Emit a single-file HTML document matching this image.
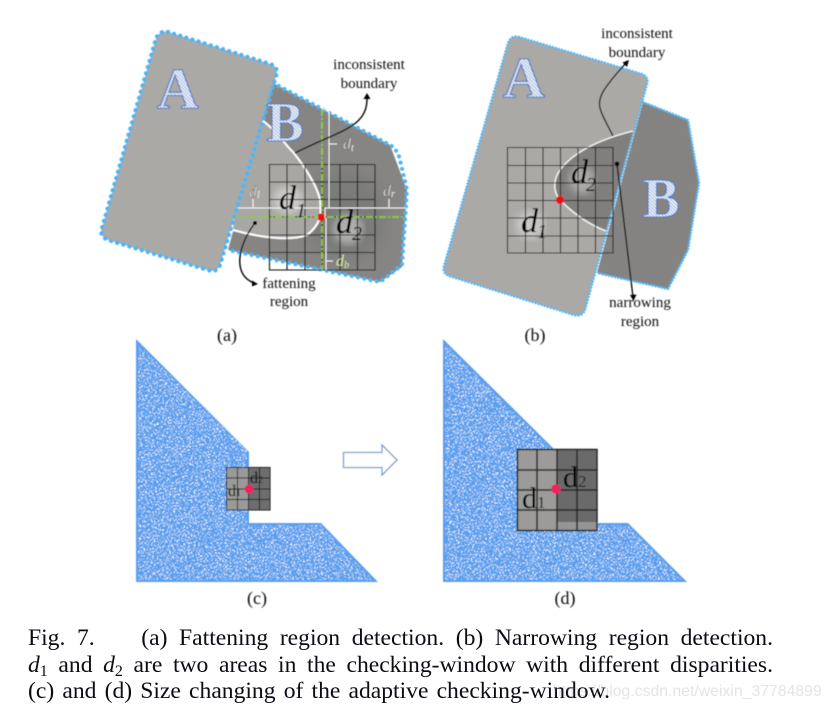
<!DOCTYPE html>
<html><head><meta charset="utf-8">
<style>
html,body{margin:0;padding:0;background:#fff;width:833px;height:715px;overflow:hidden}
svg{position:absolute;left:0;top:0}
.l{position:absolute;left:28px;white-space:nowrap;font-family:"Liberation Serif",serif;font-size:23.6px;line-height:27px;color:#0c0c14;text-align:justify;text-align-last:justify}
.l i{font-style:italic}
.l sub{font-size:16px;line-height:0;vertical-align:-4px}
.w{position:absolute;left:553px;top:682px;font-family:"Liberation Sans",sans-serif;font-size:15.800px;line-height:20px;color:rgba(120,120,120,.2);white-space:nowrap}
text{font-family:"Liberation Serif",serif}
</style></head><body>
<svg width="833" height="715" viewBox="0 0 833 715" xmlns="http://www.w3.org/2000/svg">
<defs>
<filter id="sp" x="0" y="0" width="100%" height="100%" color-interpolation-filters="sRGB">
<feTurbulence type="fractalNoise" baseFrequency="0.7" numOctaves="2" seed="7"/>
<feColorMatrix values="0 0 0 0 1 0 0 0 0 1 0 0 0 0 1 1 0 0 0 0"/>
<feComponentTransfer><feFuncA type="discrete" tableValues="0 0 0 0 0 0 0 0 0 0 1 1 1 1 1 1"/></feComponentTransfer>
</filter>
<filter id="s1"><feGaussianBlur stdDeviation="0.5"/></filter>
<filter id="s4"><feGaussianBlur stdDeviation="4"/></filter>
<filter id="s8"><feGaussianBlur stdDeviation="9"/></filter>
<pattern id="h" width="2.4" height="2.4" patternUnits="userSpaceOnUse" patternTransform="rotate(45)">
<rect width="2.4" height="2.4" fill="#eef3fa"/><rect width="2.4" height="0.9" fill="#9fb4d8"/>
</pattern>
<clipPath id="c1"><polygon points="138,344 247,451 247,525 320,525 373,580 138,580"/></clipPath>
<clipPath id="c2"><polygon points="445,344 552,450 600,525 627,525 682,580 445,580"/></clipPath>
</defs>

<g filter="url(#s1)">
<!-- (a) -->
<path d="M273,83 L390,145 L407,190 L402,267 L380,282 L228,250 Z" fill="#868583"/>
<ellipse cx="345" cy="215" rx="40" ry="45" fill="#7a7a79" filter="url(#s8)"/>
<path d="M262,120 C278,132 286,146 293,152 C306,168 318,188 320,200 C322,216 320,225 307,235 C294,240 270,240 233,230 L240,150 Z" fill="#a9a7a4"/>
<path d="M273,83 L390,145 Q398,150 400,160 L407,190 L402,265 L380,282 L228,250" fill="none" stroke="#48b6f4" stroke-width="4.2" stroke-linecap="round" stroke-dasharray="0 6.4"/>
<path d="M262,120 C278,132 286,146 293,152 C306,168 318,188 320,200 C322,216 320,225 307,235 C294,240 270,240 233,230" fill="none" stroke="#fff" stroke-width="2"/>
<path d="M168,32 L270,64 Q279,67 276,76 L220,265 Q217,273 208,270 L108,240 Q99,236 102,228 L155,42 Q158,30 168,32 Z" fill="#aba9a6"/>
<path d="M168,32 L270,64 Q279,67 276,76 L220,265 Q217,273 208,270 L108,240 Q99,236 102,228 L155,42 Q158,30 168,32 Z" fill="none" stroke="#48b6f4" stroke-width="4.4" stroke-linecap="round" stroke-dasharray="0 6.4"/>
<text x="178" y="108" text-anchor="middle" font-size="58" font-weight="bold" fill="url(#h)" stroke="#4a78c4" stroke-width="1.1">A</text>
<text x="285" y="141" text-anchor="middle" font-size="56" font-weight="bold" fill="url(#h)" stroke="#4a78c4" stroke-width="1.1">B</text>
<ellipse cx="288" cy="200" rx="15" ry="14" fill="#fff" opacity=".4" filter="url(#s4)"/>
<ellipse cx="348" cy="229" rx="15" ry="15" fill="#fff" opacity=".4" filter="url(#s4)"/>
<g stroke="#111" stroke-width="1.1" fill="none">
<path d="M269.5,164.5H375V270H269.5Z M269.5,182H375 M269.5,199.5H375 M269.5,217H375 M269.5,235H375 M269.5,252.5H375 M287,164.5V270 M305,164.5V270 M322,164.5V270 M340,164.5V270 M357.5,164.5V270"/>
</g>
<g fill="none" stroke="#f6f6f6" stroke-width="1">
<path d="M322,109H329V144H337 M329,144V208"/>
<path d="M238,208H320 M325,218V208H406"/>
<path d="M253,208V199 M389,208V199"/>
<path d="M326,218V270 M326,261H333"/>
</g>
<g fill="none" stroke="#8ecb32" stroke-width="1.8" stroke-dasharray="7 2 2 2">
<path d="M322,109V270"/><path d="M236,217H406"/>
</g>
<rect x="318" y="213.500" width="6.500" height="7" rx="1.500" fill="#f01010"/>
<text x="249" y="197" font-size="16" font-style="italic" fill="#eee" stroke="#666" stroke-width=".4">d</text><text x="257" y="198" font-size="10" font-style="italic" fill="#eee">l</text>
<text x="343" y="149" font-size="16" font-style="italic" fill="#eee" stroke="#666" stroke-width=".4">d</text><text x="351" y="151" font-size="10" font-style="italic" fill="#eee">t</text>
<text x="383" y="196" font-size="16" font-style="italic" fill="#eee" stroke="#666" stroke-width=".4">d</text><text x="391" y="197" font-size="10" font-style="italic" fill="#eee">r</text>
<text x="336" y="266" font-size="16" font-style="italic" fill="#d4eaa0">d</text><text x="344" y="268" font-size="10" font-style="italic" fill="#d4eaa0">b</text>
<text x="279" y="209" font-size="34" font-style="italic" fill="#000">d</text><text x="296" y="217" font-size="20" font-style="italic" fill="#000">1</text>
<text x="336" y="233" font-size="34" font-style="italic" fill="#000">d</text><text x="352" y="240" font-size="20" font-style="italic" fill="#000">2</text>
<path d="M295,153 C340,130 368,128 367,97" fill="none" stroke="#000" stroke-width="1.4"/>
<path d="M367,93 L363.5,99 L370.5,99 Z" fill="#000"/>
<circle cx="255" cy="223" r="2" fill="#000"/>
<path d="M255,223 C238,245 232,275 254,283" fill="none" stroke="#000" stroke-width="1.4"/>
<path d="M258,284 L252,280.5 L252,286.5 Z" fill="#000"/>
<g font-size="15" fill="#111" text-anchor="middle">
<text x="369" y="69">inconsistent</text><text x="369" y="88">boundary</text>
<text x="289" y="288">fattening</text><text x="289" y="306">region</text>
<text x="637" y="38">inconsistent</text><text x="637" y="57">boundary</text>
<text x="640" y="307">narrowing</text><text x="640" y="326">region</text>
</g>

<!-- (b) -->
<path d="M643,102 L688,120 L699,183 L688,250 L668,289 L597,273 Z" fill="#848382"/>
<path d="M643,102 L688,120 L699,183 L688,250 L668,289 L597,273" fill="none" stroke="#48b6f4" stroke-width="2.5" stroke-linecap="round" stroke-dasharray="0 3.2"/>
<path d="M519,37 L642,74 Q649,77 647,84 L585,310 Q582,317 574,315 L449,276 Q442,273 444,266 L508,43 Q511,35 519,37 Z" fill="#aba9a6"/>
<path d="M633,131 C605,138 575,150 560,170 C553,180 553,192 560,200 C575,215 590,225 606,231 Z" fill="#807f7d"/>
<ellipse cx="582" cy="180" rx="13" ry="14" fill="#d8d7d5" opacity=".5" filter="url(#s4)"/>
<ellipse cx="530" cy="225" rx="14" ry="14" fill="#f0f0f0" opacity=".45" filter="url(#s4)"/>
<path d="M519,37 L642,74 Q649,77 647,84 L585,310 Q582,317 574,315 L449,276 Q442,273 444,266 L508,43 Q511,35 519,37 Z" fill="none" stroke="#48b6f4" stroke-width="2.5" stroke-linecap="round" stroke-dasharray="0 3.2"/>
<path d="M633,131 C605,138 575,150 560,170 C553,180 553,192 560,200 C575,215 590,225 606,231" fill="none" stroke="#f8f8f8" stroke-width="1.4"/>
<text x="524" y="97" text-anchor="middle" font-size="58" font-weight="bold" fill="url(#h)" stroke="#4a78c4" stroke-width="1.1">A</text>
<text x="661" y="217" text-anchor="middle" font-size="56" font-weight="bold" fill="url(#h)" stroke="#4a78c4" stroke-width="1.1">B</text>
<path d="M507.5,147.5H613V253H507.5Z M507.5,165.5H613 M507.5,183H613 M507.5,200.5H613 M507.5,218H613 M507.5,236H613 M525.5,147.5V253 M543,147.5V253 M560.5,147.5V253 M578,147.5V253 M595.5,147.5V253" fill="none" stroke="#222" stroke-width="1.1"/>
<circle cx="560" cy="200" r="4" fill="#f01010"/>
<text x="571" y="183" font-size="34" font-style="italic" fill="#000">d</text><text x="586" y="191" font-size="20" font-style="italic" fill="#000">2</text>
<text x="521" y="232" font-size="34" font-style="italic" fill="#000">d</text><text x="537" y="238" font-size="20" font-style="italic" fill="#000">1</text>
<path d="M613,136 C600,110 595,105 604,90 C612,78 618,72 626,63" fill="none" stroke="#000" stroke-width="1.3"/>
<path d="M629,60 L622.5,62.5 L627,67 Z" fill="#000"/>
<circle cx="617" cy="164" r="2.4" fill="#000"/>
<path d="M617,164 L633,297" fill="none" stroke="#000" stroke-width="1.3"/>
<path d="M633.5,301 L630,295 L636.5,294.5 Z" fill="#000"/>

<g font-size="18" fill="#111" text-anchor="middle">
<text x="227" y="341">(a)</text><text x="535" y="341">(b)</text>
<text x="257" y="604">(c)</text><text x="565" y="604">(d)</text>
</g>

<!-- (c) -->
<polygon points="136,339 249,452 249,523 321,523 378,582 136,582" fill="#5a9fee"/>
<g clip-path="url(#c1)"><rect x="136" y="339" width="245" height="243" filter="url(#sp)"/></g>
<rect x="226" y="467" width="22" height="43" fill="#9a9a98"/>
<rect x="248" y="467" width="22" height="43" fill="#6d6d6d"/>
<path d="M226.5,467.5H270V510H226.5Z M226.5,478H270 M226.5,489H270 M226.5,499.5H270 M237.5,467.5V510 M248.5,467.5V510 M259.5,467.5V510" fill="none" stroke="#111" stroke-width="1"/>
<text x="228" y="496" font-size="16" fill="#000">d</text><text x="236" y="496" font-size="10" fill="#222">1</text>
<text x="250" y="483" font-size="16" fill="#000">d</text><text x="258" y="483" font-size="10" fill="#222">2</text>
<circle cx="249" cy="489" r="4.5" fill="#ef2060"/>
<polygon points="343.5,452.5 382,452.5 382,445 397,460 382,475 382,467.5 343.5,467.5" fill="#fff" stroke="#7f9ccc" stroke-width="1.3"/>

<!-- (d) -->
<polygon points="443,339 553,448 553,523 628,523 687,582 443,582" fill="#5a9fee"/>
<g clip-path="url(#c2)"><rect x="443" y="339" width="245" height="243" filter="url(#sp)"/></g>
<rect x="517" y="449" width="40" height="82" fill="#9c9b99"/>
<rect x="557" y="449" width="40" height="73" fill="#6b6b6b"/>
<rect x="557" y="522" width="40" height="9" fill="#969594"/>
<path d="M517.5,449.5H597V530.5H517.5Z M517.5,470H597 M517.5,490H597 M517.5,510H597 M537,449.5V530.5 M557,449.5V530.5 M577,449.5V530.5" fill="none" stroke="#222" stroke-width="1.5"/>
<text x="522" y="508" font-size="30" fill="#000">d</text><text x="537" y="508" font-size="17" fill="#222">1</text>
<text x="563" y="487" font-size="30" fill="#000">d</text><text x="578" y="487" font-size="17" fill="#222">2</text>
<circle cx="556" cy="489" r="4.8" fill="#ef2060"/>
</g>
</svg>

<div class="l" style="top:625px;width:745px">Fig. 7.&nbsp;&nbsp;&nbsp;&nbsp;(a) Fattening region detection. (b) Narrowing region detection.</div>
<div class="l" style="top:652px;width:745px"><i>d</i><sub>1</sub> and <i>d</i><sub>2</sub> are two areas in the checking-window with different disparities.</div>
<div class="l" style="top:678px;width:582px">(c) and (d) Size changing of the adaptive checking-window.</div>
<div class="w">https://blog.csdn.net/weixin_37784899</div>
</body></html>
